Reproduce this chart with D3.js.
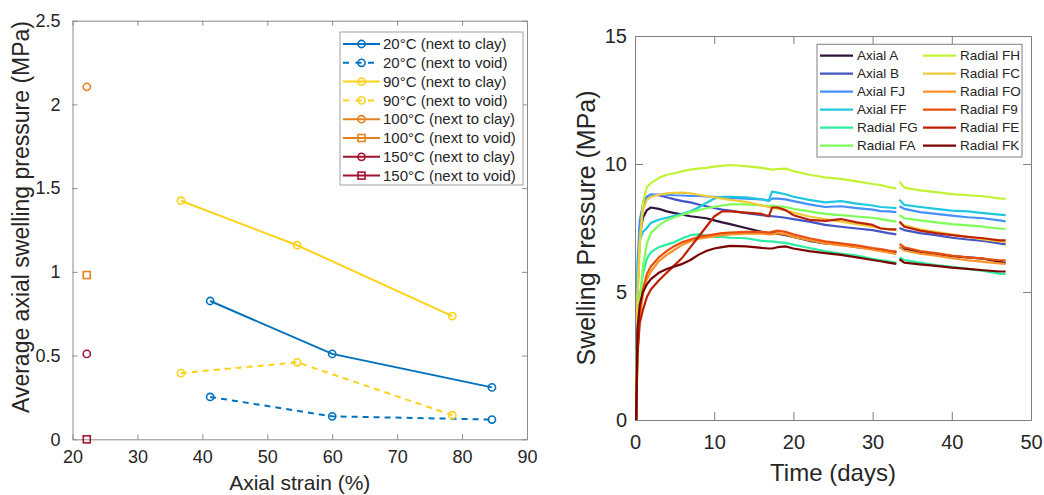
<!DOCTYPE html>
<html><head><meta charset="utf-8">
<script src="https://cdn.jsdelivr.net/npm/d3@7"></script>
<style>
html,body{margin:0;padding:0;background:#fff;}
svg text{font-family:"Liberation Sans",Arial,Helvetica,sans-serif;fill:#262626;}
</style></head>
<body>
<svg id="chart" width="1044" height="495"></svg>
<script>
// ---------- Left panel data ----------
const strain20 = [41.2, 60.0, 84.6];
const clay20   = [0.826, 0.51, 0.31];
const void20   = [0.253, 0.137, 0.118];
const strain90 = [36.7, 54.6, 78.5];
const clay90   = [1.425, 1.159, 0.736];
const void90   = [0.395, 0.460, 0.144];
const strain100 = [22.2];
const clay100  = [2.105];
const void100  = [0.981];
const strain150 = [22.2];
const clay150  = [0.51];
const void150  = [0.0];
const leftXTicks = [20, 30, 40, 50, 60, 70, 80, 90];
const leftYTicks = [0, 0.5, 1, 1.5, 2, 2.5];
const leftYTickLabels = ["0", "0.5", "1", "1.5", "2", "2.5"];
const leftLegend = ["20°C (next to clay)", "20°C (next to void)", "90°C (next to clay)", "90°C (next to void)",
  "100°C (next to clay)", "100°C (next to void)", "150°C (next to clay)", "150°C (next to void)"];

// ---------- Right panel data ----------
const days = [0.15, 0.3, 0.6, 1, 1.5, 2, 3, 4, 5, 6, 7, 8, 9, 10, 11, 12, 14, 16, 16.9, 17.3, 18, 19, 20, 22, 24, 26, 28, 30, 31, 32, 33, 33.2, 33.4, 34, 36, 38, 40, 42, 44, 46, 46.8];
const axialA  = [0, 5.0, 7.2, 7.9, 8.2, 8.3, 8.25, 8.15, 8.08, 8.02, 7.96, 7.92, 7.88, 7.8, 7.72, 7.65, 7.5, 7.35, 7.3, 7.3, 7.28, 7.22, 7.15, 7.0, 6.9, 6.85, 6.75, 6.68, 6.65, 6.6, 6.56, null, 6.75, 6.68, 6.55, 6.48, 6.4, 6.35, 6.3, 6.18, 6.14];
const axialB  = [0, 5.0, 7.5, 8.4, 8.72, 8.8, 8.78, 8.7, 8.62, 8.55, 8.5, 8.42, 8.35, 8.28, 8.22, 8.18, 8.08, 8.0, 7.97, 7.96, 7.94, 7.9, 7.85, 7.75, 7.62, 7.55, 7.48, 7.42, 7.36, 7.3, 7.25, null, 7.5, 7.42, 7.3, 7.22, 7.12, 7.05, 7.0, 6.9, 6.86];
const axialFJ = [0, 6.0, 7.8, 8.4, 8.72, 8.8, 8.8, 8.8, 8.78, 8.77, 8.75, 8.75, 8.73, 8.72, 8.7, 8.68, 8.65, 8.62, 8.56, 8.65, 8.65, 8.62, 8.55, 8.42, 8.32, 8.35, 8.28, 8.22, 8.16, 8.15, 8.12, null, 8.35, 8.25, 8.12, 8.05, 7.98, 7.92, 7.88, 7.8, 7.76];
const axialFF = [0, 5.5, 7.0, 7.35, 7.5, 7.7, 7.82, 7.9, 7.98, 8.05, 8.15, 8.3, 8.48, 8.65, 8.72, 8.72, 8.7, 8.62, 8.58, 8.92, 8.88, 8.82, 8.72, 8.6, 8.5, 8.55, 8.45, 8.38, 8.32, 8.3, 8.28, null, 8.6, 8.4, 8.32, 8.25, 8.18, 8.15, 8.08, 8.02, 8.0];
const radialFG = [0, 3.0, 4.8, 5.7, 6.3, 6.55, 6.75, 6.85, 6.95, 7.1, 7.22, 7.25, 7.2, 7.15, 7.15, 7.12, 7.1, 7.0, 6.98, 6.98, 6.95, 6.92, 6.85, 6.72, 6.6, 6.5, 6.42, 6.3, 6.25, 6.2, 6.15, null, 6.35, 6.25, 6.15, 6.05, 5.98, 5.9, 5.82, 5.72, 5.7];
const radialFA = [0, 2.5, 4.5, 6.0, 6.9, 7.3, 7.6, 7.8, 7.92, 8.02, 8.12, 8.2, 8.27, 8.32, 8.38, 8.42, 8.42, 8.38, 8.35, 8.38, 8.35, 8.32, 8.25, 8.15, 8.05, 8.0, 7.95, 7.9, 7.85, 7.8, 7.75, null, 8.0, 7.88, 7.8, 7.72, 7.65, 7.6, 7.55, 7.48, 7.46];
const radialFH = [0, 4.5, 6.8, 8.5, 9.1, 9.25, 9.45, 9.58, 9.64, 9.72, 9.78, 9.82, 9.85, 9.9, 9.93, 9.96, 9.92, 9.85, 9.8, 9.78, 9.8, 9.82, 9.72, 9.58, 9.48, 9.42, 9.32, 9.22, 9.18, 9.1, 9.05, null, 9.31, 9.08, 8.97, 8.9, 8.82, 8.78, 8.74, 8.66, 8.64];
const radialFC = [0, 4.5, 7.0, 8.2, 8.6, 8.72, 8.8, 8.85, 8.87, 8.88, 8.85, 8.8, 8.75, 8.7, 8.65, 8.6, 8.52, 8.38, 8.32, 8.3, 8.25, 8.2, 8.1, 7.95, 7.85, 7.75, 7.65, 7.55, 7.5, 7.45, 7.42, null, 7.7, 7.6, 7.45, 7.35, 7.25, 7.15, 7.05, 6.98, 6.95];
const radialFO = [0, 2.5, 4.0, 4.9, 5.5, 5.8, 6.2, 6.45, 6.65, 6.85, 6.98, 7.08, 7.12, 7.18, 7.22, 7.25, 7.28, 7.28, 7.25, 7.25, 7.3, 7.25, 7.15, 7.02, 6.9, 6.82, 6.75, 6.65, 6.6, 6.55, 6.48, null, 6.75, 6.62, 6.5, 6.42, 6.32, 6.24, 6.18, 6.12, 6.1];
const radialF9 = [0, 2.7, 4.2, 5.1, 5.7, 6.0, 6.35, 6.6, 6.8, 6.95, 7.05, 7.15, 7.2, 7.25, 7.3, 7.32, 7.35, 7.35, 7.32, 7.35, 7.4, 7.35, 7.25, 7.1, 6.98, 6.9, 6.82, 6.72, 6.68, 6.62, 6.58, null, 6.88, 6.75, 6.6, 6.52, 6.42, 6.35, 6.3, 6.24, 6.24];
const radialFE = [0, 2.5, 3.8, 4.3, 4.8, 5.1, 5.45, 5.75, 6.05, 6.35, 6.75, 7.15, 7.55, 7.95, 8.15, 8.15, 8.1, 8.05, 7.95, 8.3, 8.3, 8.2, 8.0, 7.82, 7.78, 7.85, 7.72, 7.62, 7.48, 7.45, 7.45, null, 7.75, 7.55, 7.4, 7.3, 7.22, 7.15, 7.1, 7.02, 7.02];
const radialFK = [0, 3.5, 4.5, 5.0, 5.3, 5.5, 5.75, 5.9, 6.0, 6.1, 6.25, 6.45, 6.6, 6.7, 6.75, 6.8, 6.78, 6.72, 6.7, 6.7, 6.75, 6.78, 6.7, 6.6, 6.52, 6.45, 6.35, 6.25, 6.2, 6.15, 6.1, null, 6.28, 6.15, 6.08, 6.02, 5.95, 5.9, 5.85, 5.8, 5.8];
const seriesNames = ["Axial A", "Axial B", "Axial FJ", "Axial FF", "Radial FG", "Radial FA",
  "Radial FH", "Radial FC", "Radial FO", "Radial F9", "Radial FE", "Radial FK"];
const seriesValues = [axialA, axialB, axialFJ, axialFF, radialFG, radialFA, radialFH, radialFC, radialFO, radialF9, radialFE, radialFK];
const seriesColors = ["#30123B", "#4454C4", "#4490FE", "#1FC8DE", "#29EFA2", "#7DFF56",
  "#C1F334", "#F1CA3A", "#FE922A", "#EA4F0D", "#BE2102", "#7A0403"];
const rightXTicks = [0, 10, 20, 30, 40, 50];
const rightYTicks = [0, 5, 10, 15];

const svg = d3.select("#chart");
const FONT = '"Liberation Sans",Arial,Helvetica,sans-serif';

// ================= LEFT PANEL =================
const L = {x0: 72.5, x1: 527, y0: 439.3, y1: 20.7};
const lx = d3.scaleLinear().domain([20, 90]).range([L.x0, L.x1]);
const ly = d3.scaleLinear().domain([0, 2.5]).range([L.y0, L.y1]);
const gl = svg.append("g");
const axisCol = "#8c8c8c";

gl.append("g").attr("transform", `translate(0,${L.y0})`)
  .call(d3.axisBottom(lx).tickValues(leftXTicks).tickSizeInner(-5).tickSizeOuter(0).tickPadding(11).tickFormat(d3.format("d")))
  .call(g => { g.select(".domain").attr("stroke", axisCol); g.selectAll(".tick line").attr("stroke", axisCol);
    g.selectAll("text").attr("font-size", 18).attr("font-family", FONT).attr("fill", "#262626"); });
gl.append("g").attr("transform", `translate(0,${L.y1})`)
  .call(d3.axisTop(lx).tickValues(leftXTicks).tickSizeInner(-5).tickSizeOuter(0).tickFormat(""))
  .call(g => { g.select(".domain").attr("stroke", axisCol); g.selectAll(".tick line").attr("stroke", axisCol); });
gl.append("g").attr("transform", `translate(${L.x0},0)`)
  .call(d3.axisLeft(ly).tickValues(leftYTicks).tickSizeInner(-5).tickSizeOuter(0).tickPadding(12).tickFormat((d, i) => leftYTickLabels[i]))
  .call(g => { g.select(".domain").attr("stroke", axisCol); g.selectAll(".tick line").attr("stroke", axisCol);
    g.selectAll("text").attr("font-size", 18).attr("font-family", FONT).attr("fill", "#262626"); });
gl.append("g").attr("transform", `translate(${L.x1},0)`)
  .call(d3.axisRight(ly).tickValues(leftYTicks).tickSizeInner(-5).tickSizeOuter(0).tickFormat(""))
  .call(g => { g.select(".domain").attr("stroke", axisCol); g.selectAll(".tick line").attr("stroke", axisCol); });

gl.append("text").attr("x", (L.x0 + L.x1) / 2).attr("y", 490).attr("text-anchor", "middle")
  .attr("font-size", 21).text("Axial strain (%)");
gl.append("text").attr("transform", `translate(29,217) rotate(-90)`).attr("text-anchor", "middle")
  .attr("font-size", 23).text("Average axial swelling pressure (MPa)");

const cBlue = "#0072BD", cYellow = "#FFD21A", cOrange = "#E4801E", cRed = "#A2142F";
const leftSeries = [
  {xs: strain20, ys: clay20, color: cBlue, dash: null, marker: "circle"},
  {xs: strain20, ys: void20, color: cBlue, dash: "6,5", marker: "circle"},
  {xs: strain90, ys: clay90, color: cYellow, dash: null, marker: "circle"},
  {xs: strain90, ys: void90, color: cYellow, dash: "6,5", marker: "circle"},
  {xs: strain100, ys: clay100, color: cOrange, dash: null, marker: "circle"},
  {xs: strain100, ys: void100, color: cOrange, dash: null, marker: "square"},
  {xs: strain150, ys: clay150, color: cRed, dash: null, marker: "circle"},
  {xs: strain150, ys: void150, color: cRed, dash: null, marker: "square"}
];
const lline = d3.line().x(d => lx(d[0])).y(d => ly(d[1]));
function drawMarker(g, type, cx, cy, color) {
  if (type === "circle") {
    g.append("circle").attr("cx", cx).attr("cy", cy).attr("r", 3.6)
      .attr("fill", "none").attr("stroke", color).attr("stroke-width", 1.6);
  } else {
    g.append("rect").attr("x", cx - 3.5).attr("y", cy - 3.5).attr("width", 7).attr("height", 7)
      .attr("fill", "none").attr("stroke", color).attr("stroke-width", 1.6);
  }
}
leftSeries.forEach(s => {
  const pts = s.xs.map((x, i) => [x, s.ys[i]]);
  if (pts.length > 1) {
    gl.append("path").attr("d", lline(pts)).attr("fill", "none").attr("stroke", s.color)
      .attr("stroke-width", 2).attr("stroke-dasharray", s.dash);
  }
  pts.forEach(p => drawMarker(gl, s.marker, lx(p[0]), ly(p[1]), s.color));
});

// left legend
const lg = gl.append("g");
lg.append("rect").attr("x", 340).attr("y", 32).attr("width", 183).attr("height", 153)
  .attr("fill", "#fff").attr("stroke", "#a0a0a0").attr("stroke-width", 1);
leftSeries.forEach((s, i) => {
  const yy = 44 + i * 18.8;
  lg.append("line").attr("x1", 343).attr("x2", 380).attr("y1", yy).attr("y2", yy)
    .attr("stroke", s.color).attr("stroke-width", 2).attr("stroke-dasharray", s.dash ? "6,6.5" : null);
  drawMarker(lg, s.marker, 361.5, yy, s.color);
  lg.append("text").attr("x", 383).attr("y", yy).attr("dy", "0.35em").attr("font-size", 15).text(leftLegend[i]);
});

// ================= RIGHT PANEL =================
const R = {x0: 635, x1: 1031, y0: 420, y1: 36};
const rx = d3.scaleLinear().domain([0, 50]).range([R.x0, R.x1]);
const ry = d3.scaleLinear().domain([0, 15]).range([R.y0, R.y1]);
const gr = svg.append("g");
const axisCol2 = "#7f7f7f";
gr.append("g").attr("transform", `translate(0,${R.y0})`)
  .call(d3.axisBottom(rx).tickValues(rightXTicks).tickSizeInner(-8).tickSizeOuter(0).tickPadding(15).tickFormat(d3.format("d")))
  .call(g => { g.select(".domain").attr("stroke", axisCol2); g.selectAll(".tick line").attr("stroke", axisCol2);
    g.selectAll("text").attr("font-size", 20).attr("font-family", FONT).attr("fill", "#262626"); });
gr.append("g").attr("transform", `translate(0,${R.y1})`)
  .call(d3.axisTop(rx).tickValues(rightXTicks).tickSizeInner(-8).tickSizeOuter(0).tickFormat(""))
  .call(g => { g.select(".domain").attr("stroke", axisCol2); g.selectAll(".tick line").attr("stroke", axisCol2); });
gr.append("g").attr("transform", `translate(${R.x0},0)`)
  .call(d3.axisLeft(ry).tickValues(rightYTicks).tickSizeInner(-8).tickSizeOuter(0).tickPadding(8).tickFormat(d3.format("d")))
  .call(g => { g.select(".domain").attr("stroke", axisCol2); g.selectAll(".tick line").attr("stroke", axisCol2);
    g.selectAll("text").attr("font-size", 20).attr("font-family", FONT).attr("fill", "#262626"); });
gr.append("g").attr("transform", `translate(${R.x1},0)`)
  .call(d3.axisRight(ry).tickValues(rightYTicks).tickSizeInner(-8).tickSizeOuter(0).tickFormat(""))
  .call(g => { g.select(".domain").attr("stroke", axisCol2); g.selectAll(".tick line").attr("stroke", axisCol2); });

gr.append("text").attr("x", (R.x0 + R.x1) / 2).attr("y", 481).attr("text-anchor", "middle")
  .attr("font-size", 24).text("Time (days)");
gr.append("text").attr("transform", `translate(595,${(R.y0 + R.y1) / 2}) rotate(-90)`).attr("text-anchor", "middle")
  .attr("font-size", 25).text("Swelling Pressure (MPa)");

const rline = d3.line().defined(d => d[1] != null).x(d => rx(d[0])).y(d => ry(d[1]));
seriesValues.forEach((vals, i) => {
  const pts = days.map((t, j) => [t, vals[j]]);
  gr.append("path").attr("d", rline(pts)).attr("fill", "none").attr("stroke", seriesColors[i])
    .attr("stroke-width", 2.2).attr("stroke-linejoin", "round");
});

// right legend
const rg = gr.append("g");
rg.append("rect").attr("x", 817).attr("y", 44.3).attr("width", 205).attr("height", 112.7)
  .attr("fill", "#fff").attr("stroke", "#808080").attr("stroke-width", 1);
seriesNames.forEach((n, i) => {
  const col = Math.floor(i / 6), row = i % 6;
  const yy = 55.7 + row * 18;
  const lx0 = col === 0 ? 820 : 923;
  rg.append("line").attr("x1", lx0).attr("x2", lx0 + 33).attr("y1", yy).attr("y2", yy)
    .attr("stroke", seriesColors[i]).attr("stroke-width", 2.2);
  rg.append("text").attr("x", lx0 + 37).attr("y", yy).attr("dy", "0.35em").attr("font-size", 13.5).text(n);
});
</script>
</body></html>
